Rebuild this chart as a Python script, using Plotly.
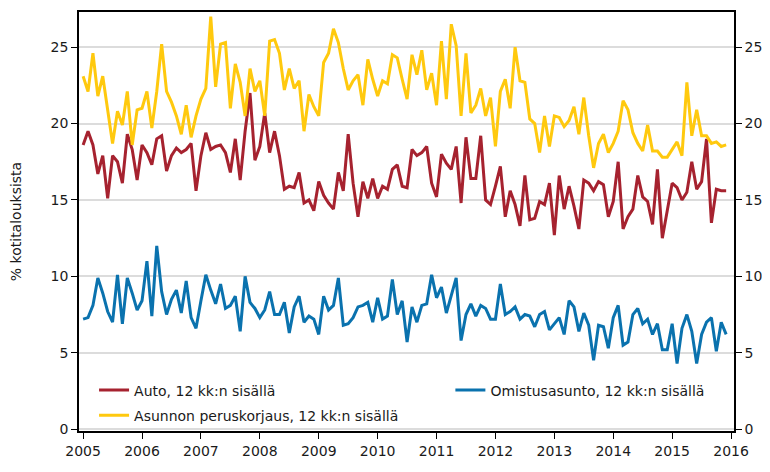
import numpy as np
import plotly.graph_objects as go

# Monthly shares of households (%), Jan 2005 - Dec 2015
auto = [
    18.6, 19.5, 18.6, 16.7, 17.9, 15.1, 17.9, 17.5, 16.1, 19.3, 18.3, 16.3,
    18.6, 18.1, 17.3, 19.0, 19.2, 16.9, 17.9, 18.4, 18.1, 18.3, 18.7, 15.6,
    17.9, 19.4, 18.3, 18.5, 18.6, 18.1, 16.8, 19.0, 16.3, 19.5, 22.0, 17.6,
    18.5, 20.7, 18.1, 19.5, 17.9, 15.7, 15.9, 15.8, 16.8, 14.8, 15.0, 14.3,
    16.2, 15.3, 14.8, 14.4, 16.8, 15.6, 19.3, 16.1, 13.9, 16.2, 15.1, 16.4,
    15.1, 15.9, 15.7, 17.0, 17.3, 15.9, 15.8, 18.3, 17.9, 18.1, 18.5, 16.1,
    15.2, 18.0, 17.4, 17.0, 18.5, 14.8, 19.1, 16.4, 16.4, 19.2, 15.0, 14.7,
    15.9, 17.2, 13.9, 15.6, 14.7, 13.3, 16.6, 13.7, 13.8, 14.9, 14.7, 16.1,
    12.7, 16.6, 14.4, 15.9, 14.6, 13.1, 16.3, 16.1, 15.6, 16.2, 16.0, 13.9,
    14.9, 17.5, 13.1, 13.9, 14.4, 16.6, 15.2, 14.9, 13.4, 17.0, 12.5, 14.4,
    16.1, 15.8, 15.0, 15.5, 17.5, 15.7, 16.2, 19.0, 13.5, 15.7, 15.6, 15.6,
]
omistusasunto = [
    7.2, 7.3, 8.1, 9.9, 8.9, 7.7, 7.0, 10.1, 6.9, 9.9, 8.9, 7.8,
    8.4, 11.0, 7.4, 12.0, 9.0, 7.5, 8.5, 9.1, 7.6, 9.7, 7.3, 6.6,
    8.4, 10.1, 9.1, 8.2, 9.5, 7.9, 8.1, 8.7, 6.4, 10.0, 8.3, 7.9,
    7.3, 7.8, 9.0, 7.5, 7.5, 8.3, 6.3, 8.0, 8.7, 7.0, 7.4, 7.2,
    6.2, 8.7, 7.8, 8.1, 9.9, 6.8, 6.9, 7.3, 8.0, 8.1, 8.3, 7.0,
    8.6, 7.2, 7.4, 9.8, 7.5, 8.4, 5.7, 8.0, 7.0, 8.1, 8.2, 10.1,
    8.6, 9.3, 7.6, 8.7, 9.9, 5.8, 7.5, 8.2, 7.4, 8.1, 7.9, 7.2,
    7.2, 9.5, 7.5, 7.7, 8.0, 7.2, 7.5, 7.4, 6.7, 7.5, 7.7, 6.5,
    6.9, 7.3, 6.2, 8.4, 8.0, 6.4, 7.6, 6.8, 4.5, 6.8, 6.7, 5.3,
    7.3, 8.1, 5.5, 5.7, 7.5, 7.9, 6.9, 7.2, 6.2, 6.9, 5.2, 5.2,
    6.9, 4.3, 6.6, 7.5, 6.4, 4.3, 6.2, 7.0, 7.3, 5.1, 7.0, 6.2,
]
peruskorjaus = [
    23.1, 22.1, 24.6, 21.8, 23.1, 20.9, 18.7, 20.8, 19.9, 22.1, 18.6, 20.9,
    21.0, 22.1, 19.7, 22.1, 25.2, 22.1, 21.4, 20.5, 19.3, 21.2, 19.1, 20.5,
    21.6, 22.3, 27.0, 22.4, 25.2, 25.3, 21.0, 23.9, 22.7, 20.5, 23.6, 22.1,
    22.8, 20.5, 25.4, 25.5, 24.6, 22.2, 23.6, 22.3, 22.8, 19.5, 21.9, 21.1,
    20.5, 24.0, 24.6, 26.2, 25.3, 23.6, 22.2, 22.8, 23.2, 21.2, 24.2, 22.9,
    21.8, 22.8, 22.6, 24.5, 24.3, 22.9, 21.6, 24.5, 23.2, 24.8, 22.2, 23.3,
    21.2, 25.4, 21.6, 26.5, 25.1, 20.5, 24.6, 20.7, 21.2, 22.3, 20.5, 21.7,
    18.5, 22.1, 22.9, 21.0, 25.0, 22.8, 22.7, 20.3, 20.0, 18.1, 20.5, 18.5,
    20.5, 20.4, 19.8, 20.2, 21.1, 19.3, 21.7, 19.2, 17.1, 18.7, 19.3, 18.1,
    18.7, 19.5, 21.5, 20.9, 19.4, 18.7, 18.2, 19.9, 18.2, 18.2, 17.8, 17.8,
    18.3, 18.8, 17.9, 22.7, 19.2, 20.9, 19.2, 19.2, 18.7, 18.8, 18.5, 18.6,
]
years = list(range(2005, 2017))
y_ticks = [0, 5, 10, 15, 20, 25]

# month positions on a year axis
x = 2005 + np.arange(len(auto)) / 12

# name, values, colour, legend box, y axis
series = [
    ("Auto, 12 kk:n sisällä", auto, "#A6222F", "legend", "y"),
    ("Omistusasunto, 12 kk:n sisällä", omistusasunto, "#0A72AE", "legend2", "y"),
    ("Asunnon peruskorjaus, 12 kk:n sisällä", peruskorjaus, "#FFC90E", "legend", "y2"),
]

fig = go.Figure()
for name, vals, color, leg, yax in series:
    fig.add_trace(go.Scatter(
        x=x, y=vals, mode="lines", name=name, legend=leg, legendgroup=name,
        yaxis=yax, line=dict(color=color, width=3)
    ))

font = dict(family="DejaVu Sans", size=14, color="#1a1a1a")
leg_font = dict(family="DejaVu Sans", size=14, color="#1a1a1a")
y_range = [-0.12, 27.3]
axis_style = dict(
    zeroline=False, showline=True, linecolor="black", linewidth=1.5,
    ticks="outside", ticklen=6, tickcolor="black", tickfont=font, automargin=False
)

# page body adds 8px offset, margins compensate for it
fig.update_layout(
    width=770, height=472,
    margin=dict(l=71, r=44, t=4, b=49),
    paper_bgcolor="white", plot_bgcolor="white",
    font=font,
    xaxis=dict(
        range=[2004.93, 2016.05], tickvals=years, ticktext=[str(y) for y in years],
        showgrid=False, mirror=True, **axis_style
    ),
    yaxis=dict(
        range=y_range, tickvals=y_ticks, showgrid=True, gridcolor="#dcdcdc",
        gridwidth=1.5, title=dict(text="% kotitalouksista", font=font, standoff=28),
        **axis_style
    ),
    yaxis2=dict(
        range=y_range, tickvals=y_ticks, overlaying="y", side="right",
        showgrid=False, **axis_style
    ),
    legend=dict(
        x=0.023, y=0.135, xanchor="left", yanchor="top", tracegroupgap=4,
        font=leg_font, bgcolor="rgba(255,255,255,0)"
    ),
    legend2=dict(
        x=0.567, y=0.135, xanchor="left", yanchor="top",
        font=leg_font, bgcolor="rgba(255,255,255,0)"
    ),
    showlegend=True,
)

fig.write_html("out.html")
